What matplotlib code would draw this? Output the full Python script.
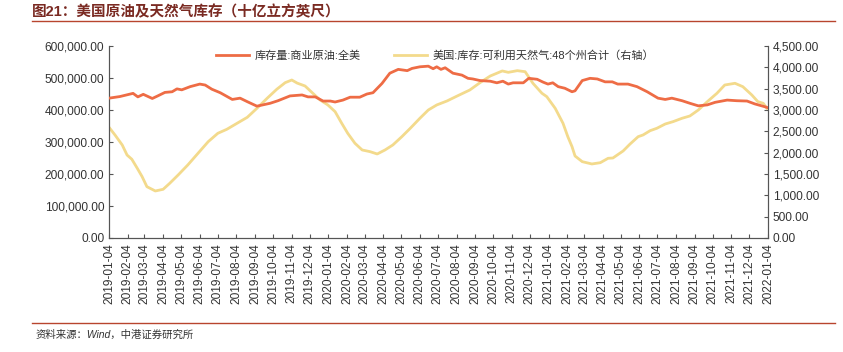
import pandas as pd
import matplotlib.pyplot as plt
import matplotlib.dates as mdates
from matplotlib.ticker import FuncFormatter

plt.rcParams['font.family'] = ['Liberation Sans', 'Noto Sans CJK SC']

# 库存量:商业原油:全美 (千桶)
oil_dates = ['2019-01-04', '2019-01-22', '2019-02-13', '2019-02-21', '2019-03-02', '2019-03-17',
             '2019-03-26', '2019-04-07', '2019-04-19', '2019-04-27', '2019-05-05', '2019-05-19',
             '2019-06-04', '2019-06-13', '2019-06-24', '2019-07-08', '2019-07-28', '2019-08-10',
             '2019-08-22', '2019-09-07', '2019-09-29', '2019-10-12', '2019-11-01', '2019-11-21',
             '2019-12-01', '2019-12-13', '2019-12-26', '2020-01-07', '2020-01-15', '2020-01-28',
             '2020-02-09', '2020-02-25', '2020-03-08', '2020-03-18', '2020-04-02', '2020-04-15',
             '2020-04-29', '2020-05-14', '2020-05-22', '2020-06-04', '2020-06-18', '2020-06-26',
             '2020-07-02', '2020-07-09', '2020-07-16', '2020-07-29', '2020-08-13', '2020-08-23',
             '2020-08-31', '2020-09-12', '2020-09-29', '2020-10-10', '2020-10-20', '2020-10-29',
             '2020-11-06', '2020-11-23', '2020-12-02', '2020-12-16', '2020-12-26', '2021-01-03',
             '2021-01-11', '2021-01-20', '2021-01-31', '2021-02-12', '2021-02-17', '2021-03-01',
             '2021-03-14', '2021-03-26', '2021-04-08', '2021-04-20', '2021-04-29', '2021-05-16',
             '2021-05-31', '2021-06-17', '2021-07-05', '2021-07-17', '2021-07-28', '2021-08-14',
             '2021-08-27', '2021-09-10', '2021-09-25', '2021-10-08', '2021-10-28', '2021-11-13',
             '2021-11-30', '2021-12-13', '2021-12-30', '2022-01-04']
oil = [437000, 442000, 452000, 441000, 449000, 436000,
       444000, 455000, 457000, 466000, 463000, 473000,
       481000, 478000, 465000, 454000, 433000, 437000,
       426000, 412000, 421000, 429000, 444000, 447000,
       441000, 441000, 428000, 428000, 425000, 431000,
       440000, 440000, 450000, 454000, 483000, 515000,
       527000, 523000, 530000, 535000, 537000, 529000,
       535000, 527000, 532000, 515000, 509000, 499000,
       497000, 492000, 490000, 485000, 490000, 481000,
       485000, 485000, 499000, 496000, 487000, 481000,
       485000, 473000, 468000, 457000, 460000, 492000,
       499000, 497000, 488000, 488000, 481000, 481000,
       473000, 457000, 437000, 433000, 437000, 429000,
       421000, 413000, 416000, 424000, 431000, 429000,
       428000, 419000, 410000, 407000]

# 美国:库存:可利用天然气:48个州合计 (十亿立方英尺, 右轴)
gas_dates = ['2019-01-04', '2019-01-14', '2019-01-26', '2019-02-03', '2019-02-11', '2019-02-20',
             '2019-02-28', '2019-03-08', '2019-03-22', '2019-04-04', '2019-04-15', '2019-04-29',
             '2019-05-15', '2019-06-01', '2019-06-18', '2019-07-04', '2019-07-19', '2019-08-05',
             '2019-08-22', '2019-09-07', '2019-09-24', '2019-10-10', '2019-10-24', '2019-11-04',
             '2019-11-13', '2019-11-26', '2019-12-09', '2019-12-21', '2020-01-03', '2020-01-15',
             '2020-01-26', '2020-02-05', '2020-02-17', '2020-02-29', '2020-03-13', '2020-03-25',
             '2020-04-07', '2020-04-20', '2020-05-05', '2020-05-19', '2020-06-04', '2020-06-18',
             '2020-07-02', '2020-07-19', '2020-08-05', '2020-08-26', '2020-09-12', '2020-09-29',
             '2020-10-19', '2020-10-29', '2020-11-13', '2020-11-26', '2020-12-09', '2020-12-24',
             '2021-01-01', '2021-01-15', '2021-01-28', '2021-02-05', '2021-02-12', '2021-02-17',
             '2021-03-01', '2021-03-17', '2021-03-31', '2021-04-13', '2021-04-21', '2021-05-08',
             '2021-05-19', '2021-06-02', '2021-06-10', '2021-06-22', '2021-07-03', '2021-07-17',
             '2021-07-30', '2021-08-14', '2021-08-27', '2021-09-10', '2021-09-25', '2021-10-11',
             '2021-10-24', '2021-11-10', '2021-11-23', '2021-12-08', '2021-12-18', '2021-12-27',
             '2022-01-02']
gas = [2595, 2414, 2180, 1945, 1845, 1634,
       1440, 1203, 1102, 1141, 1282, 1477,
       1711, 1985, 2258, 2454, 2548, 2689,
       2829, 3040, 3275, 3486, 3641, 3703,
       3630, 3563, 3392, 3235, 3118, 2961,
       2689, 2454, 2220, 2063, 2024, 1969,
       2063, 2180, 2375, 2571, 2806, 3000,
       3118, 3211, 3328, 3469, 3641, 3797,
       3915, 3883, 3922, 3898, 3626, 3392,
       3313, 3040, 2689, 2375, 2141, 1922,
       1789, 1735, 1765, 1868, 1875, 2040,
       2196, 2375, 2414, 2516, 2571, 2672,
       2727, 2806, 2860, 3000, 3196, 3392,
       3586, 3626, 3547, 3352, 3196, 3157,
       3040]

oil_name = '库存量:商业原油:全美'
gas_name = '美国:库存:可利用天然气:48个州合计（右轴）'
title = '图21：美国原油及天然气库存（十亿立方英尺）'
source = '资料来源：Wind，中港证券研究所'

c_oil = '#EE6C45'
c_gas = '#F3DA8C'
c_brand = '#B8452E'
c_txt = '#333333'

fig = plt.figure(figsize=(8.43, 3.52), dpi=100)
ax = fig.add_axes([0.1293, 0.3239, 0.7818, 0.5454])
ax2 = ax.twinx()

od = pd.to_datetime(oil_dates)
gd = pd.to_datetime(gas_dates)
l1, = ax.plot(od, oil, color=c_oil, lw=2.0, zorder=3)
l2, = ax2.plot(gd, gas, color=c_gas, lw=2.0, zorder=2)
ax.set_zorder(ax2.get_zorder() + 1)
ax.patch.set_visible(False)

ax.set_ylim(0, 600000)
ax2.set_ylim(0, 4500)
ax.set_yticks(range(0, 600001, 100000))
ax2.set_yticks(range(0, 4501, 500))
ax.yaxis.set_major_formatter(FuncFormatter(lambda v, p: f'{v:,.2f}'))
ax2.yaxis.set_major_formatter(FuncFormatter(lambda v, p: f'{v:,.2f}'))

ticks = pd.date_range('2019-01-01', '2022-01-01', freq='MS') + pd.Timedelta(days=3)
ax.set_xlim(pd.Timestamp('2019-01-04'), pd.Timestamp('2022-01-04'))
ax.set_xticks(ticks)
ax.xaxis.set_major_formatter(mdates.DateFormatter('%Y-%m-%d'))
for lab in ax.get_xticklabels():
    lab.set_rotation(90)

for a in (ax, ax2):
    a.spines['top'].set_visible(False)
    for s in a.spines.values():
        s.set_color('#555555')
        s.set_linewidth(0.8)
    a.tick_params(direction='in', length=3, width=0.8, color='#555555',
                  labelsize=8.6, labelcolor=c_txt)
ax.tick_params(axis='x', pad=4)

leg = ax.legend([l1, l2], [oil_name, gas_name], loc='upper center',
                bbox_to_anchor=(0.495, 1.03), ncol=2, frameon=False,
                fontsize=8, handlelength=3, handletextpad=0.5, columnspacing=3)
for t in leg.get_texts():
    t.set_color(c_txt)

fig.text(0.038, 0.965, title, fontsize=10.5, fontweight='bold', color='#7A2A22', va='center')
fig.add_artist(plt.Line2D([0.038, 0.99], [0.94, 0.94], color=c_brand, lw=1.0))
fig.add_artist(plt.Line2D([0.038, 0.99], [0.082, 0.082], color=c_brand, lw=1.0))
fig.text(0.042, 0.048, source, fontsize=7.5, style='italic', color=c_txt, va='center')

fig.savefig('out.png', dpi=100)
